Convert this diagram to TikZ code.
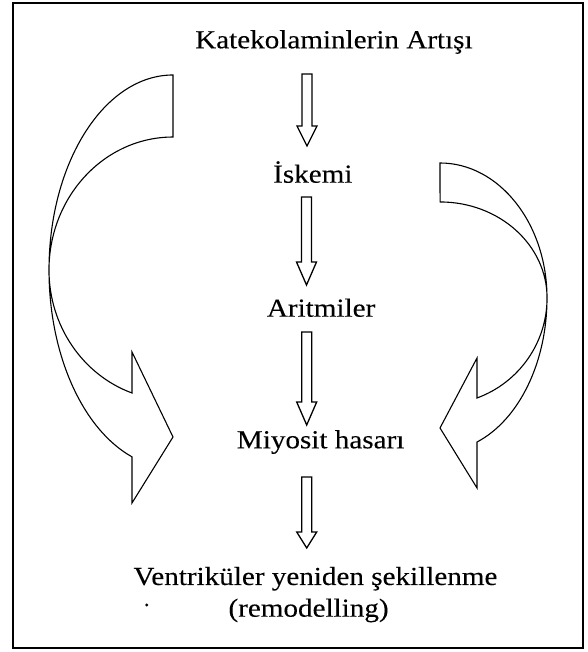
\documentclass[tikz,border=0pt]{standalone}
\usepackage{fontspec}
\setmainfont[FakeStretch=1.12,FakeBold=0.12]{Liberation Serif}
\begin{document}
\begin{tikzpicture}[x=1pt,y=1pt,
  lbl/.style={anchor=base west,inner sep=0pt,font=\fontsize{26}{30}\selectfont},
  blockarrow/.style={draw=black,line width=1.3pt,line join=miter},
  bigarrow/.style={draw=black,line width=1.1pt,line join=miter},
  frame/.style={draw=black,line width=1.8pt}]
\useasboundingbox (0,0) rectangle (587,652);
\draw[frame] (13,4) rectangle (583,649);
% text nodes
\node[lbl] (kat) at (195,603.7) {Katekolaminlerin Artışı};
\node[lbl] (isk) at (273,469.3) {İskemi};
\node[lbl] (ari) at (266.7,335.3) {Aritmiler};
\node[lbl] (miy) at (236.7,203.7) {Miyosit hasarı};
\node[lbl] (ven) at (133.3,67) {Ventriküler yeniden şekillenme};
\node[lbl] (rem) at (228.3,35.3) {(remodelling)};
\fill (146.7,47) circle (1.6);
% straight block arrows: center x, top, head start, tip
\newcommand{\blkarrow}[4]{%
  \draw[blockarrow] (#1-5,#2) -- (#1+5,#2) -- (#1+5,#3) -- (#1+10,#3) -- (#1,#4)
    -- (#1-10,#3) -- (#1-5,#3) -- cycle;}
\blkarrow{307}{578}{526}{506}
\blkarrow{306.5}{455}{390}{367}
\blkarrow{306.7}{320}{250}{227}
\blkarrow{306.7}{175}{120}{104}
% left curved arrow
\draw[bigarrow] (173,577)
  arc[start angle=90,end angle=180,x radius=124,y radius=195]
  arc[start angle=180,end angle=250.7,x radius=124,y radius=198]
  -- (132,149) -- (173,215) -- (132,300) -- (132,259)
  arc[start angle=250.7,end angle=180,x radius=124,y radius=130.3]
  arc[start angle=180,end angle=90,x radius=124,y radius=133]
  -- cycle;
% right curved arrow
\draw[bigarrow] (440,489)
  arc[start angle=90,end angle=0,x radius=107,y radius=135]
  arc[start angle=0,end angle=-69.8,x radius=107,y radius=153.5]
  -- (477,164) -- (440,224) -- (477,294) -- (477,254)
  arc[start angle=-69.8,end angle=0,x radius=107,y radius=106.6]
  arc[start angle=0,end angle=90,x radius=107,y radius=96]
  -- cycle;
\end{tikzpicture}
\end{document}
